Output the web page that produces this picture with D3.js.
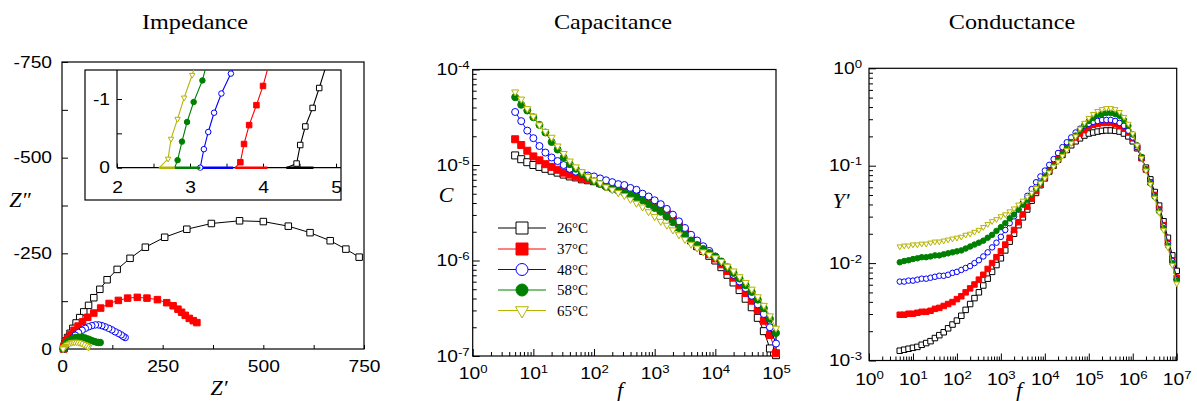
<!DOCTYPE html>
<html>
<head>
<meta charset="utf-8">
<script src="https://cdn.jsdelivr.net/npm/d3@7"></script>
<style>
body { margin: 0; background: #fff; }
</style>
</head>
<body>
<svg id="chart" width="1197" height="401"></svg>
<script>
const temps = ["26°C", "37°C", "48°C", "58°C", "65°C"];

// impedance, main plot (Z', Z'' in ohm, Z'' negative)
const zRe26 = [738,705,666,616,562,500,441,371,310,255,207,169,137,112,94,79,66,54,44,35,27,20,14,10,7.5,6,5.2,4.8,4.6];
const zIm26 = [-240,-261,-283,-304,-321,-333,-335,-328,-313,-292,-266,-237,-208,-181,-156,-134,-114,-97,-82,-68,-54,-41,-30,-21,-14,-9,-5,-2.5,-1];
const zRe37 = [335,326,316,306,297,288,276,260,237,211,187,163,140,117,96,79,64,51,40,30,21,14,9.5,6.5,4.8,4.0,3.75,3.7];
const zIm37 = [-69,-74,-80,-88,-96,-104,-113,-121,-129,-133,-135,-133,-127,-119,-107,-94,-83,-71,-60,-49,-37,-27,-18,-11,-6,-3,-1.2,-0.2];
const zRe48 = [157,152,147,140,132,124,116,107,99,91,83,74,66,58,50,41,33,25,19,13,9,6,4.5,3.6,3.2];
const zIm48 = [-30,-33,-37,-41,-45,-50,-54,-58,-61,-63,-63,-61,-58,-54,-49,-43,-36,-28,-20,-13,-8,-4.5,-2.2,-0.8,-0.1];
const zRe58 = [95,90,85,79,72,65,57,49,41,33,26,19,13,9,6,4,3.2,2.85];
const zIm58 = [-17,-17,-18,-20,-23,-26,-29,-31,-31,-30,-27,-23,-18,-12,-7,-3.5,-1.2,-0.2];
const zRe65 = [66,63,59,54,48,42,36,30,24,18,12,8,5,3.5,2.7];
const zIm65 = [-5,-7,-10,-12,-15,-17,-18,-18,-17,-14,-11,-7,-4,-2,-0.3];

// impedance, inset (high frequency end)
const inRe26 = [4.69,4.32,4.46,4.51,4.58,4.68,4.77,4.87];
const inIm26 = [0.8,0.3,-0.06,-0.33,-0.60,-0.87,-1.16,-1.5];
const inRe37 = [4.06,3.62,3.69,3.74,3.81,3.91,4.00,4.08];
const inIm37 = [0.8,0.3,-0.08,-0.345,-0.62,-0.91,-1.19,-1.5];
const inRe48 = [3.59,3.14,3.14,3.19,3.25,3.33,3.43,3.56,3.65];
const inIm48 = [0.8,0.2,0,-0.27,-0.52,-0.80,-1.08,-1.37,-1.6];
const inRe58 = [3.14,2.79,2.83,2.89,2.96,3.05,3.17,3.25];
const inIm58 = [0.8,0.3,-0.11,-0.38,-0.665,-0.956,-1.27,-1.6];
const inRe65 = [2.79,2.58,2.70,2.74,2.83,2.92,3.03,3.10];
const inIm65 = [0.8,0.3,-0.13,-0.42,-0.71,-1.02,-1.35,-1.6];

// capacitance (F) vs frequency (Hz)
const freqC = [5.01,6.31,7.94,10,12.6,15.8,20,25.1,31.6,39.8,50.1,63.1,79.4,100,126,158,200,251,316,398,501,631,794,1000,1259,1585,1995,2512,3162,3981,5012,6310,7943,10000,12589,15849,19953,25119,31623,39811,50119,63096,79433,100000];
const cap26 = [1.26e-5,1.15e-5,1.07e-5,1.00e-5,9.55e-6,9.12e-6,8.71e-6,8.32e-6,7.94e-6,7.59e-6,7.41e-6,7.08e-6,6.92e-6,6.76e-6,6.46e-6,6.17e-6,5.89e-6,5.62e-6,5.37e-6,5.01e-6,4.79e-6,4.47e-6,4.07e-6,3.72e-6,3.39e-6,3.02e-6,2.63e-6,2.24e-6,1.91e-6,1.62e-6,1.41e-6,1.26e-6,1.12e-6,1.00e-6,8.51e-7,7.08e-7,5.89e-7,4.90e-7,3.98e-7,3.24e-7,2.51e-7,1.82e-7,1.20e-7,1.02e-7];
const cap37 = [1.86e-5,1.62e-5,1.41e-5,1.23e-5,1.12e-5,1.02e-5,9.55e-6,8.91e-6,8.32e-6,7.94e-6,7.59e-6,7.24e-6,7.08e-6,6.92e-6,6.61e-6,6.31e-6,6.03e-6,5.75e-6,5.50e-6,5.25e-6,4.90e-6,4.57e-6,4.17e-6,3.80e-6,3.47e-6,3.09e-6,2.69e-6,2.34e-6,2.00e-6,1.70e-6,1.48e-6,1.32e-6,1.17e-6,1.05e-6,9.12e-7,7.76e-7,6.61e-7,5.50e-7,4.57e-7,3.80e-7,3.02e-7,2.34e-7,1.66e-7,1.07e-7];
const cap48 = [3.59e-5,2.88e-5,2.29e-5,1.91e-5,1.58e-5,1.35e-5,1.20e-5,1.10e-5,1.00e-5,9.12e-6,8.51e-6,8.13e-6,7.76e-6,7.59e-6,7.24e-6,6.92e-6,6.61e-6,6.31e-6,6.17e-6,5.75e-6,5.50e-6,5.01e-6,4.68e-6,4.27e-6,3.89e-6,3.47e-6,3.02e-6,2.57e-6,2.19e-6,1.86e-6,1.62e-6,1.41e-6,1.26e-6,1.10e-6,9.55e-7,8.32e-7,7.08e-7,6.03e-7,5.13e-7,4.27e-7,3.47e-7,2.75e-7,2.00e-7,1.35e-7];
const cap58 = [5.13e-5,4.27e-5,3.72e-5,3.16e-5,2.63e-5,2.19e-5,1.74e-5,1.45e-5,1.20e-5,1.02e-5,9.12e-6,8.13e-6,7.41e-6,6.76e-6,6.31e-6,5.89e-6,5.62e-6,5.37e-6,5.13e-6,4.90e-6,4.57e-6,4.27e-6,3.89e-6,3.55e-6,3.24e-6,2.88e-6,2.51e-6,2.19e-6,1.86e-6,1.62e-6,1.45e-6,1.32e-6,1.20e-6,1.10e-6,9.77e-7,8.51e-7,7.41e-7,6.46e-7,5.50e-7,4.68e-7,3.89e-7,3.16e-7,2.45e-7,1.74e-7];
const cap65 = [5.82e-5,4.90e-5,3.89e-5,3.24e-5,2.63e-5,2.24e-5,1.95e-5,1.58e-5,1.32e-5,1.10e-5,9.55e-6,8.51e-6,7.59e-6,6.92e-6,6.46e-6,5.89e-6,5.50e-6,5.13e-6,4.79e-6,4.37e-6,3.98e-6,3.63e-6,3.24e-6,2.88e-6,2.57e-6,2.34e-6,2.09e-6,1.86e-6,1.66e-6,1.48e-6,1.35e-6,1.23e-6,1.15e-6,1.07e-6,9.77e-7,8.71e-7,7.76e-7,6.76e-7,5.89e-7,5.01e-7,4.17e-7,3.39e-7,2.63e-7,1.95e-7];

// conductance (S) vs frequency (Hz)
const freqY = [5.01,6.31,7.94,10,12.6,15.8,20,25.1,31.6,39.8,50.1,63.1,79.4,100,126,158,200,251,316,398,501,631,794,1000,1259,1585,1995,2512,3162,3981,5012,6310,7943,10000,12589,15849,19953,25119,31623,39811,50119,63096,79433,100000,125893,158489,199526,251189,316228,398107,501187,630957,794328,1000000,1258925,1584893,1995262,2511886,3162278,3981072,5011872,6309573,7943282,10000000];
const cond26 = [1.26e-3,1.29e-3,1.32e-3,1.35e-3,1.38e-3,1.45e-3,1.51e-3,1.58e-3,1.70e-3,1.82e-3,1.95e-3,2.14e-3,2.34e-3,2.57e-3,2.88e-3,3.31e-3,3.80e-3,4.37e-3,5.01e-3,5.89e-3,6.92e-3,8.13e-3,9.55e-3,1.12e-2,1.35e-2,1.66e-2,2.00e-2,2.45e-2,2.95e-2,3.55e-2,4.37e-2,5.25e-2,6.31e-2,7.41e-2,8.71e-2,0.100,0.115,0.129,0.145,0.162,0.178,0.191,0.204,0.214,0.219,0.224,0.228,0.230,0.230,0.228,0.224,0.214,0.200,0.178,0.151,0.120,9.55e-2,7.24e-2,5.37e-2,3.89e-2,2.69e-2,1.82e-2,1.20e-2,8.32e-3];
const cond37 = [2.95e-3,2.95e-3,3.02e-3,3.02e-3,3.09e-3,3.16e-3,3.16e-3,3.24e-3,3.39e-3,3.47e-3,3.63e-3,3.80e-3,3.98e-3,4.27e-3,4.57e-3,5.01e-3,5.50e-3,6.03e-3,6.76e-3,7.59e-3,8.71e-3,1.00e-2,1.15e-2,1.32e-2,1.55e-2,1.82e-2,2.19e-2,2.63e-2,3.16e-2,3.80e-2,4.57e-2,5.50e-2,6.46e-2,7.59e-2,8.91e-2,0.102,0.117,0.135,0.155,0.174,0.195,0.214,0.234,0.251,0.263,0.269,0.275,0.275,0.275,0.269,0.257,0.240,0.219,0.191,0.155,0.120,9.12e-2,6.76e-2,5.01e-2,3.55e-2,2.45e-2,1.62e-2,1.07e-2,7.08e-3];
const cond48 = [6.46e-3,6.46e-3,6.61e-3,6.61e-3,6.76e-3,6.92e-3,6.92e-3,7.08e-3,7.24e-3,7.41e-3,7.41e-3,7.59e-3,7.94e-3,8.13e-3,8.51e-3,8.91e-3,9.33e-3,1.00e-2,1.07e-2,1.17e-2,1.29e-2,1.45e-2,1.62e-2,1.86e-2,2.19e-2,2.57e-2,3.02e-2,3.55e-2,4.17e-2,4.90e-2,5.75e-2,6.76e-2,7.76e-2,8.91e-2,0.102,0.117,0.135,0.155,0.174,0.195,0.219,0.240,0.257,0.269,0.282,0.288,0.295,0.295,0.295,0.288,0.275,0.257,0.229,0.195,0.155,0.120,9.12e-2,6.76e-2,4.90e-2,3.47e-2,2.40e-2,1.58e-2,1.05e-2,6.76e-3];
const cond58 = [1.02e-2,1.05e-2,1.07e-2,1.10e-2,1.12e-2,1.15e-2,1.15e-2,1.17e-2,1.20e-2,1.20e-2,1.23e-2,1.26e-2,1.29e-2,1.32e-2,1.35e-2,1.41e-2,1.48e-2,1.55e-2,1.62e-2,1.70e-2,1.82e-2,1.95e-2,2.14e-2,2.34e-2,2.57e-2,2.88e-2,3.16e-2,3.55e-2,3.98e-2,4.47e-2,5.13e-2,5.75e-2,6.61e-2,7.59e-2,8.71e-2,0.100,0.115,0.132,0.151,0.174,0.204,0.234,0.263,0.288,0.309,0.331,0.339,0.347,0.347,0.339,0.324,0.295,0.257,0.209,0.162,0.123,9.12e-2,6.61e-2,4.79e-2,3.39e-2,2.29e-2,1.51e-2,1.00e-2,6.61e-3];
const cond65 = [1.48e-2,1.51e-2,1.51e-2,1.55e-2,1.55e-2,1.58e-2,1.58e-2,1.62e-2,1.66e-2,1.66e-2,1.70e-2,1.74e-2,1.78e-2,1.82e-2,1.86e-2,1.95e-2,2.00e-2,2.09e-2,2.19e-2,2.34e-2,2.51e-2,2.69e-2,2.82e-2,3.02e-2,3.16e-2,3.39e-2,3.63e-2,3.98e-2,4.37e-2,4.79e-2,5.25e-2,5.89e-2,6.61e-2,7.41e-2,8.51e-2,9.77e-2,0.110,0.126,0.145,0.170,0.200,0.240,0.275,0.309,0.339,0.363,0.380,0.389,0.389,0.380,0.355,0.316,0.269,0.214,0.162,0.120,8.91e-2,6.46e-2,4.68e-2,3.31e-2,2.19e-2,1.45e-2,9.55e-3,6.17e-3];

const zRe = [zRe26, zRe37, zRe48, zRe58, zRe65];
const zIm = [zIm26, zIm37, zIm48, zIm58, zIm65];
const inRe = [inRe26, inRe37, inRe48, inRe58, inRe65];
const inIm = [inIm26, inIm37, inIm48, inIm58, inIm65];
const caps = [cap26, cap37, cap48, cap58, cap65];
const conds = [cond26, cond37, cond48, cond58, cond65];

const colors = ["#000000", "#ff0000", "#0000ff", "#008000", "#b4b400"];
const shapes = [d3.symbolSquare, d3.symbolSquare, d3.symbolCircle, d3.symbolCircle, d3.symbolTriangle];
const filled = [false, true, false, true, false];
const sans = "'Liberation Sans', Arial, sans-serif";
const serif = "'Liberation Serif', 'Times New Roman', serif";

const svg = d3.select("#chart");

function symArea(i, w) {
  if (i < 2) return w * w;
  if (i < 4) return Math.PI * w * w / 4;
  return Math.sqrt(3) / 4 * w * w;
}

function drawMarkers(g, pts, i, w) {
  g.append("g").selectAll("path")
    .data(pts)
    .enter()
    .append("path")
    .attr("transform", d => "translate(" + d[0] + "," + d[1] + ")" + (i == 4 ? " rotate(180)" : ""))
    .attr("d", d3.symbol(shapes[i], symArea(i, w)))
    .attr("fill", filled[i] ? colors[i] : "#fff")
    .attr("stroke", colors[i])
    .attr("stroke-width", 1);
}

function drawSeries(g, xs, ys, sx, sy, i, w) {
  let pts = xs.map((x, k) => [sx(x), sy(ys[k])]);
  g.append("path")
    .attr("d", d3.line()(pts))
    .attr("fill", "none")
    .attr("stroke", colors[i])
    .attr("stroke-width", 1);
  drawMarkers(g, pts, i, w);
}

function stretch(sel, k) {
  sel.each(function() {
    let w = this.getComputedTextLength();
    if (w > 0) d3.select(this).attr("textLength", w * k).attr("lengthAdjust", "spacingAndGlyphs");
  });
}

function cleanAxis(g, size) {
  g.select(".domain").remove();
  g.selectAll("line").attr("stroke", "#000");
  g.selectAll("text").attr("font-family", sans).attr("font-size", size || 16).attr("fill", "#000");
}

function supLabels(g) {
  g.selectAll(".tick text").each(function(d) {
    if (this.textContent == "") return;
    let t = d3.select(this).text("");
    t.append("tspan").text("10");
    t.append("tspan").attr("dy", "-0.55em").attr("font-size", "11px").text(Math.round(Math.log10(d)));
  });
}

function frame(x0, y0, x1, y1) {
  svg.append("rect")
    .attr("x", x0).attr("y", y0)
    .attr("width", x1 - x0).attr("height", y1 - y0)
    .attr("fill", "none").attr("stroke", "#000").attr("stroke-width", 1.2);
}

function title(txt, x) {
  let t = svg.append("text")
    .attr("x", x).attr("y", 29)
    .attr("text-anchor", "middle")
    .attr("font-family", serif).attr("font-size", 22)
    .text(txt);
  stretch(t, 1.1);
}

function axisLabel(txt, x, y) {
  svg.append("text")
    .attr("x", x).attr("y", y)
    .attr("text-anchor", "middle")
    .attr("font-family", serif).attr("font-style", "italic").attr("font-size", 22)
    .text(txt);
}

function isDecade(v) {
  return Math.abs(Math.log10(v) - Math.round(Math.log10(v))) < 1e-6;
}

function logAxes(x, y, x0, y0, x1, y1, padX, padY) {
  let minorX = x.ticks().filter(v => !isDecade(v));
  let majorX = x.ticks().filter(v => isDecade(v));
  let minorY = y.ticks().filter(v => !isDecade(v));
  let majorY = y.ticks().filter(v => isDecade(v));

  svg.append("g").attr("transform", "translate(0," + y1 + ")")
    .call(d3.axisBottom(x).tickValues(minorX).tickSize(-4).tickFormat(""))
    .call(cleanAxis);
  let gx = svg.append("g").attr("transform", "translate(0," + y1 + ")")
    .call(d3.axisBottom(x).tickValues(majorX).tickSize(-7).tickSizeOuter(0).tickPadding(padX))
    .call(cleanAxis)
    .call(supLabels);
  stretch(gx.selectAll(".tick text"), 1.2);

  svg.append("g").attr("transform", "translate(" + x0 + ",0)")
    .call(d3.axisLeft(y).tickValues(minorY).tickSize(-4).tickFormat(""))
    .call(cleanAxis);
  let gy = svg.append("g").attr("transform", "translate(" + x0 + ",0)")
    .call(d3.axisLeft(y).tickValues(majorY).tickSize(-7).tickSizeOuter(0).tickPadding(padY))
    .call(cleanAxis)
    .call(supLabels);
  stretch(gy.selectAll(".tick text"), 1.2);

  frame(x0, y0, x1, y1);
}

// ---------- Impedance ----------
function drawImpedance() {
  let x0 = 62, x1 = 364, y0 = 62, y1 = 349;
  let x = d3.scaleLinear().domain([0, 750]).range([x0, x1]);
  let y = d3.scaleLinear().domain([0, -750]).range([y1, y0]);

  let gx = svg.append("g").attr("transform", "translate(0," + y1 + ")")
    .call(d3.axisBottom(x).tickValues(d3.range(0, 751, 125)).tickSize(-4).tickSizeOuter(0).tickPadding(12)
      .tickFormat(d => d % 250 == 0 ? String(d) : ""))
    .call(cleanAxis);
  stretch(gx.selectAll(".tick text"), 1.2);
  let gy = svg.append("g").attr("transform", "translate(" + x0 + ",0)")
    .call(d3.axisLeft(y).tickValues(d3.range(0, -751, -125)).tickSize(-6).tickSizeOuter(0).tickPadding(10)
      .tickFormat(d => d % 250 == 0 ? String(d) : ""))
    .call(cleanAxis);
  stretch(gy.selectAll(".tick text"), 1.2);
  frame(x0, y0, x1, y1);

  let g = svg.append("g");
  for (let i = 0; i < 5; i++) drawSeries(g, zRe[i], zIm[i], x, y, i, 6.5);

  // inset
  let ix0 = 85, ix1 = 341, iy0 = 70, iy1 = 200;
  svg.append("rect").attr("x", ix0).attr("y", iy0).attr("width", ix1 - ix0).attr("height", iy1 - iy0)
    .attr("fill", "#fff").attr("stroke", "#000").attr("stroke-width", 1.2);
  let xi = d3.scaleLinear().domain([2, 5]).range([117, 336]);
  let yi = d3.scaleLinear().domain([0, -1]).range([167.7, 99]);
  let base = yi(0);

  svg.append("defs").append("clipPath").attr("id", "insetclip")
    .append("rect").attr("x", 117).attr("y", iy0).attr("width", ix1 - 117).attr("height", base - iy0 + 3);

  let gix = svg.append("g").attr("transform", "translate(0," + base + ")")
    .call(d3.axisBottom(xi).tickValues([2, 2.5, 3, 3.5, 4, 4.5, 5]).tickSize(-4).tickSizeOuter(0).tickPadding(14)
      .tickFormat(d => Number.isInteger(d) ? String(d) : ""))
    .call(cleanAxis);
  stretch(gix.selectAll(".tick text"), 1.2);
  let giy = svg.append("g").attr("transform", "translate(117,0)")
    .call(d3.axisLeft(yi).tickValues([0, -0.5, -1]).tickSize(-5).tickSizeOuter(0).tickPadding(7)
      .tickFormat(d => Number.isInteger(d) ? String(d) : ""))
    .call(cleanAxis);
  stretch(giy.selectAll(".tick text"), 1.2);
  svg.append("line").attr("x1", 117).attr("x2", 117).attr("y1", iy0).attr("y2", base).attr("stroke", "#000").attr("stroke-width", 1.2);
  svg.append("line").attr("x1", 117).attr("x2", ix1).attr("y1", base).attr("y2", base).attr("stroke", "#000").attr("stroke-width", 1.2);

  let gi = svg.append("g").attr("clip-path", "url(#insetclip)");
  let yClamp = v => Math.min(yi(v), base);
  for (let i = 0; i < 5; i++) {
    let pts = inRe[i].map((r, k) => [xi(r), yClamp(inIm[i][k])]);
    // the part below the axis runs along it, drawn heavier like the original
    let tail = pts.filter((p, k) => inIm[i][k] >= 0);
    gi.append("path").attr("d", d3.line()(tail)).attr("fill", "none")
      .attr("stroke", colors[i]).attr("stroke-width", 2.6);
    gi.append("path").attr("d", d3.line()(pts)).attr("fill", "none")
      .attr("stroke", colors[i]).attr("stroke-width", 1.1);
    let shown = inRe[i].map((r, k) => [xi(r), yi(inIm[i][k]), inIm[i][k]]).filter(d => d[2] <= 0);
    drawMarkers(gi, shown, i, 5.5);
  }

  title("Impedance", 195);
  axisLabel("Z\u2033", 20, 207);
  axisLabel("Z\u2032", 219, 395);
}

// ---------- Capacitance ----------
function drawCapacitance() {
  let x0 = 472.7, x1 = 776, y0 = 69.5, y1 = 356;
  let x = d3.scaleLog().domain([1, 1e5]).range([x0, x1]);
  let y = d3.scaleLog().domain([1e-7, 1e-4]).range([y1, y0]);
  logAxes(x, y, x0, y0, x1, y1, 12, 3);

  let g = svg.append("g");
  for (let i = 0; i < 5; i++) drawSeries(g, freqC, caps[i], x, y, i, 7);

  // legend
  let lg = svg.append("g");
  let rows = [228, 249, 269.5, 290, 310.5];
  for (let i = 0; i < 5; i++) {
    lg.append("line").attr("x1", 498).attr("x2", 546).attr("y1", rows[i]).attr("y2", rows[i])
      .attr("stroke", colors[i]).attr("stroke-width", 1);
    drawMarkers(lg, [[522, rows[i]]], i, i == 4 ? 13 : 12);
    lg.append("text").attr("x", 557).attr("y", rows[i] + 5)
      .attr("font-family", serif).attr("font-size", 15)
      .text(temps[i]);
  }

  title("Capacitance", 613);
  axisLabel("C", 446, 202);
  axisLabel("f", 620, 397);
}

// ---------- Conductance ----------
function drawConductance() {
  let x0 = 869, x1 = 1176.7, y0 = 68.3, y1 = 360.5;
  let x = d3.scaleLog().domain([1, 1e7]).range([x0, x1]);
  let y = d3.scaleLog().domain([1e-3, 1]).range([y1, y0]);
  logAxes(x, y, x0, y0, x1, y1, 13, 7);

  let g = svg.append("g");
  for (let i = 0; i < 5; i++) drawSeries(g, freqY, conds[i], x, y, i, 5.5);

  title("Conductance", 1012);
  axisLabel("Y\u2032", 841, 208);
  axisLabel("f", 1019, 397);
}

drawImpedance();
drawCapacitance();
drawConductance();
</script>
</body>
</html>
